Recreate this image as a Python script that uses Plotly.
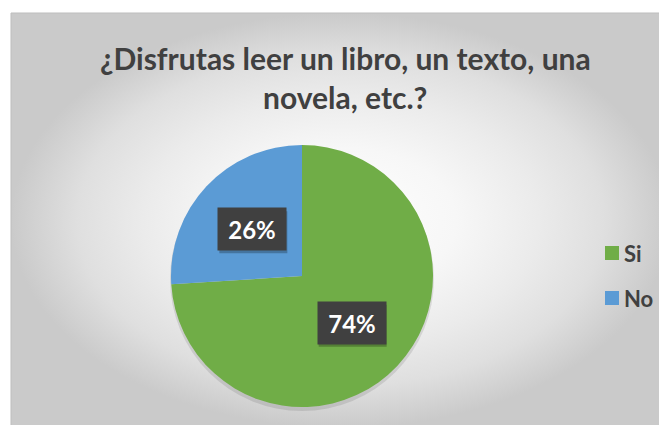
import math
import plotly.graph_objects as go

# ---- data ----
labels = ["Si", "No"]
values = [74, 26]
colors = ["#70AD47", "#5B9BD5"]
title_lines = ["¿Disfrutas leer un libro, un texto, una", "novela, etc.?"]

# ---- layout constants (pixels, in page coordinates; page body has 8px margin) ----
OFF = 8
PW, PH = 667, 425
W, H = PW - OFF, PH - OFF
cx, cy, R = 302, 276, 131
BOX_W, BOX_H = 68, 42
FONT = "Lato"

fig = go.Figure()

# chart-area background with radial gradient
fig.add_trace(go.Scatter(
    x=[11, PW + 3, PW + 3, 11, 11], y=[13, 13, PH + 3, PH + 3, 13],
    mode="lines", line=dict(color="#bdbdbd", width=1),
    fill="toself",
    fillgradient=dict(type="radial",
                      colorscale=[[0, "#ffffff"], [0.35, "#f7f7f7"],
                                  [0.6, "#ebebeb"], [0.8, "#dfdfdf"],
                                  [1, "#cacaca"]]),
    hoverinfo="skip", showlegend=False))

# soft pie shadow
fig.add_trace(go.Pie(
    values=[1], labels=["shadow"], textinfo="none", hoverinfo="skip",
    marker=dict(colors=["rgba(0,0,0,0.10)"], line=dict(width=0)),
    domain=dict(x=[(cx - R - 1 - OFF) / W, (cx + R + 1 - OFF) / W],
                y=[1 - (cy + R + 4 - OFF) / H, 1 - (cy - R + 2 - OFF) / H]),
    showlegend=False))

# pie
fig.add_trace(go.Pie(
    labels=labels, values=values, sort=False, direction="clockwise",
    rotation=0, textinfo="none", hoverinfo="label+percent",
    marker=dict(colors=colors, line=dict(width=0)),
    domain=dict(x=[(cx - R - OFF) / W, (cx + R - OFF) / W],
                y=[1 - (cy + R - OFF) / H, 1 - (cy - R - OFF) / H]),
    showlegend=False))

annotations = []
shapes = []
# data labels in dark boxes (with small drop shadow)
total = sum(values)
cum = 0
for v in values:
    mid = (cum + v / 2) / total * 2 * math.pi
    cum += v
    x = cx + 0.52 * R * math.sin(mid)
    y = cy - 0.52 * R * math.cos(mid)
    shapes.append(dict(type="rect", xref="x", yref="y", layer="above",
                       x0=x - BOX_W / 2 + 1, x1=x + BOX_W / 2 + 1,
                       y0=y - BOX_H / 2 + 3, y1=y + BOX_H / 2 + 3,
                       fillcolor="rgba(0,0,0,0.25)", line=dict(width=0)))
    annotations.append(dict(
        x=x, y=y, xref="x", yref="y", showarrow=False,
        text=f"<b>{round(v / total * 100)}%</b>",
        font=dict(family=FONT, size=24, color="#ffffff"),
        bgcolor="#404040", width=BOX_W - 4, height=BOX_H - 4, borderpad=2,
        xanchor="center", yanchor="middle"))

# title
for i, line in enumerate(title_lines):
    annotations.append(dict(
        x=345, y=58 + 39 * i, xref="x", yref="y", showarrow=False,
        text=f"<b>{line}</b>",
        font=dict(family=FONT, size=30, color="#404040"),
        xanchor="center", yanchor="middle"))

# legend
shapes.append(dict(type="rect", xref="x", yref="y", layer="below",
                   x0=592, x1=664, y0=230, y1=321,
                   fillcolor="rgba(226,226,226,0.55)", line=dict(width=0)))
for i, (lab, col) in enumerate(zip(labels, colors)):
    ly = 253 + 45 * i
    shapes.append(dict(type="rect", xref="x", yref="y",
                       x0=605, x1=619, y0=ly - 7, y1=ly + 7,
                       fillcolor=col, line=dict(width=0)))
    annotations.append(dict(
        x=622, y=ly, xref="x", yref="y", showarrow=False,
        text=f"<b>{lab}</b>",
        font=dict(family=FONT, size=22, color="#404040"),
        xanchor="left", yanchor="middle"))

fig.update_layout(
    width=W, height=H,
    margin=dict(l=0, r=0, t=0, b=0),
    paper_bgcolor="#ffffff", plot_bgcolor="#ffffff",
    xaxis=dict(range=[OFF, PW], visible=False, fixedrange=True),
    yaxis=dict(range=[PH, OFF], visible=False, fixedrange=True),
    annotations=annotations, shapes=shapes,
    showlegend=False,
)

fig.write_html("out.html")
